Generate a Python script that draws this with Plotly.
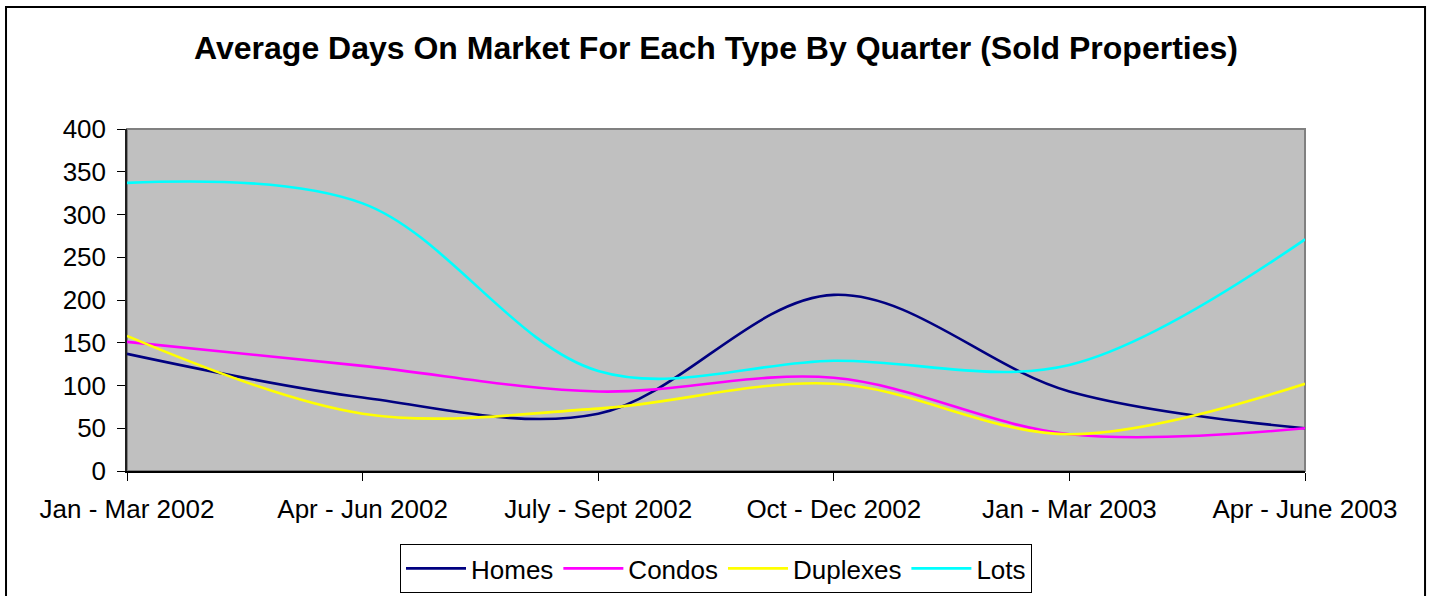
import plotly.graph_objects as go

quarters = ["Jan - Mar 2002", "Apr - Jun 2002", "July - Sept 2002",
            "Oct - Dec 2002", "Jan - Mar 2003", "Apr - June 2003"]
homes = [137, 86, 67, 206, 93, 50]
condos = [151, 123, 93, 109, 43, 50]
duplexes = [158, 67, 73, 102, 43, 102]
lots = [337, 313, 117, 129, 124, 271]

series = [
    ("Homes", homes, "#000080"),
    ("Condos", condos, "#FF00FF"),
    ("Duplexes", duplexes, "#FFFF00"),
    ("Lots", lots, "#00FFFF"),
]

fig = go.Figure()
for name, vals, color in series:
    fig.add_trace(go.Scatter(
        x=quarters, y=vals, name=name, mode="lines",
        line=dict(color=color, width=2.6, shape="spline", smoothing=1.0),
    ))

font = "Liberation Sans, Arial, sans-serif"

fig.update_layout(
    width=1432, height=596,
    margin=dict(l=127, r=127, t=129, b=125, autoexpand=False),
    paper_bgcolor="white",
    plot_bgcolor="#C0C0C0",
    font=dict(family=font, size=26, color="black"),
    title=dict(text="<b>Average Days On Market For Each Type By Quarter (Sold Properties)</b>",
               x=0.5, xanchor="center", y=0.919, yanchor="middle",
               font=dict(family=font, size=32, color="black")),
    xaxis=dict(type="category", range=[0, 5], showgrid=False, zeroline=False,
               showline=True, linecolor="black", linewidth=1.5,
               ticks="outside", ticklen=8, tickcolor="black", tickwidth=1,
               ticklabelstandoff=6, tickfont=dict(size=26)),
    yaxis=dict(range=[0, 400], dtick=50, showgrid=False, zeroline=False,
               showline=True, linecolor="#202020", linewidth=1.5,
               ticks="outside", ticklen=8, tickcolor="black", tickwidth=1,
               ticklabelstandoff=6, tickfont=dict(size=26)),
    legend=dict(orientation="h", x=0.5, xanchor="center", y=-0.3567, yanchor="bottom",
                bordercolor="black", borderwidth=1, bgcolor="white",
                font=dict(size=26), itemwidth=60, tracegroupgap=0),
    showlegend=True,
    shapes=[
        dict(type="rect", xref="paper", yref="paper", x0=0, x1=1, y0=0, y1=1,
             line=dict(color="#808080", width=2), layer="below"),
        dict(type="rect", xref="paper", yref="paper",
             x0=-0.1027, x1=1.1019, y0=-0.6, y1=1.3567,
             line=dict(color="black", width=2), layer="below"),
    ],
)

fig.write_html("out.html", config={"displayModeBar": False},
               post_script="document.body.style.margin='0';")
